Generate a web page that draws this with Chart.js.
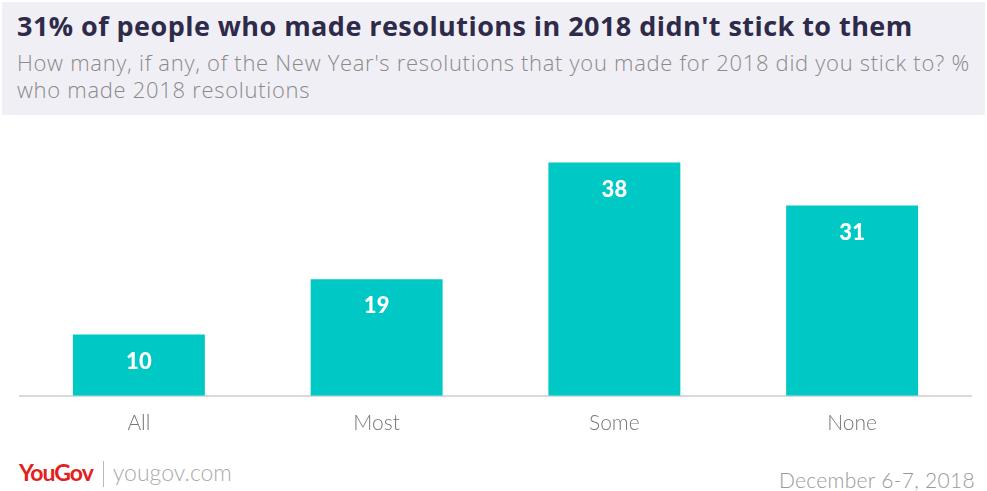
<!DOCTYPE html>
<html>
<head>
<meta charset="utf-8">
<script src="https://cdn.jsdelivr.net/npm/chart.js@4.4.0/dist/chart.umd.min.js"></script>
<style>
  body { margin: 0; width: 987px; height: 491px; background: #fff; position: relative; overflow: hidden; font-family: Lato, "Open Sans", sans-serif; }
  #header { position: absolute; left: 2px; top: 2px; width: 983px; height: 113px; background: #f0eff5; }
  #title { position: absolute; left: 15px; top: 5px; font-family: "Open Sans", Lato, sans-serif; font-size: 27px; font-weight: 700; color: #2e2a4a; white-space: nowrap; letter-spacing: 0.45px; }
  #subtitle { position: absolute; left: 15px; top: 47px; font-family: "Open Sans", Lato, sans-serif; font-size: 22px; font-weight: 300; color: #8a8a8a; line-height: 27px; white-space: nowrap; letter-spacing: 0.7px; }
  #chartBox { position: absolute; left: 0; top: 130px; width: 987px; height: 321px; }
  #logo { position: absolute; left: 19px; top: 458px; font-size: 23px; white-space: nowrap; }
  #logo .brand { color: #e3201b; font-weight: 700; letter-spacing: -1px; }
  #logo .sep { display: inline-block; width: 1px; height: 26px; background: #bbb; vertical-align: -6px; margin: 0 9px 0 10px; }
  #logo .site { color: #aaa; font-weight: 300; }
  #date { position: absolute; right: 12px; top: 467px; font-size: 21px; font-weight: 300; color: #999; letter-spacing: 0.3px; }
</style>
</head>
<body>
<div id="header">
  <div id="title">31% of people who made resolutions in 2018 didn't stick to them</div>
  <div id="subtitle">How many, if any, of the New Year's resolutions that you made for 2018 did you stick to? %<br>who made 2018 resolutions</div>
</div>
<div id="chartBox"><canvas id="myChart"></canvas></div>
<div id="logo"><span class="brand">YouGov</span><span class="sep"></span><span class="site">yougov.com</span></div>
<div id="date">December 6-7, 2018</div>
<script>
const categories = ["All", "Most", "Some", "None"];
const values = [10, 19, 38, 31];

//Draw the value in white inside the top of each bar
const barLabels = {
    id: 'barLabels',
    afterDatasetsDraw(chart) {
        const ctx = chart.ctx;
        const meta = chart.getDatasetMeta(0);
        ctx.save();
        ctx.fillStyle = '#ffffff';
        ctx.font = '900 22px Lato, "Open Sans", sans-serif';
        ctx.textAlign = 'center';
        ctx.textBaseline = 'middle';
        meta.data.forEach((bar, i) => {
            ctx.fillText(values[i], bar.x, bar.y + 27);
        });
        ctx.restore();
    }
};

var ctx = document.getElementById("myChart");
new Chart(ctx, {
    type: 'bar',
    data: {
        labels: categories,
        datasets: [{
            data: values,
            backgroundColor: "#00c8c4",
            barPercentage: 0.555,
            categoryPercentage: 1
        }]
    },
    options: {
        responsive: true,
        maintainAspectRatio: false,
        animation: false,
        layout: { padding: { left: 20, right: 16, top: 0, bottom: 0 } },
        plugins: { legend: { display: false }, tooltip: { enabled: false } },
        scales: {
            y: { display: false, min: 0, max: 43.3 },
            x: {
                grid: { display: false, drawTicks: false },
                border: { color: '#d9d9d9', width: 2 },
                ticks: { color: '#777', font: { size: 21, family: 'Lato, "Open Sans", sans-serif', weight: 300 }, padding: 15 }
            }
        }
    },
    plugins: [barLabels]
});
</script>
</body>
</html>
